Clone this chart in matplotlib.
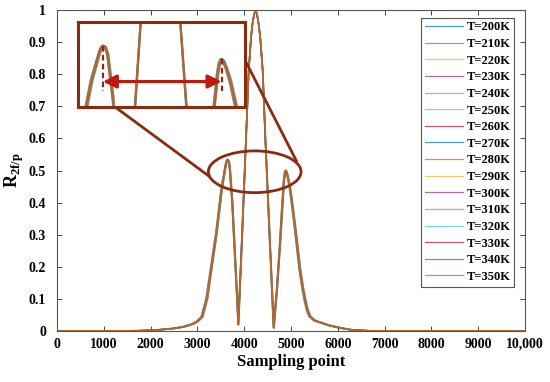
import matplotlib
matplotlib.use("Agg")
import matplotlib.pyplot as plt
from matplotlib.patches import Ellipse
import numpy as np

plt.rcParams['font.family'] = ['Liberation Serif', 'DejaVu Serif']
plt.rcParams['font.weight'] = 'bold'
plt.rcParams['mathtext.fontset'] = 'custom'
plt.rcParams['mathtext.bf'] = 'Liberation Serif:bold'
plt.rcParams['mathtext.rm'] = 'Liberation Serif'

# ---------------- data ----------------
temperatures = [200, 210, 220, 230, 240, 250, 260, 270, 280, 290, 300, 310, 320, 330, 340, 350]
series_labels = [f"T={t}K" for t in temperatures]

# base spectrum (sampling point, R_2f/p)
base_x = [0, 1000, 1800, 2200, 2500, 2700, 2900, 3000, 3100, 3200, 3300, 3410, 3520,
          3590, 3615, 3640, 3665, 3690, 3746, 3804, 3853, 3874, 3953, 4039, 4096, 4146,
          4175, 4210, 4243, 4276, 4315, 4345, 4396, 4452, 4545, 4631, 4700, 4765, 4810, 4845,
          4866, 4887, 4910, 4940, 4979, 5030, 5085, 5140, 5192, 5250, 5299, 5350, 5406, 5513,
          5684, 5800, 5976, 6150, 6325, 6688, 7000, 8000, 10000]
base_y = [0.0, 0.0, 0.001, 0.004, 0.008, 0.013, 0.022, 0.030, 0.045, 0.100, 0.200, 0.310, 0.445,
          0.505, 0.525, 0.534, 0.530, 0.512, 0.400, 0.230, 0.090, 0.020, 0.290, 0.600, 0.810, 0.915,
          0.955, 0.985, 1.000, 0.985, 0.950, 0.910, 0.810, 0.600, 0.290, 0.010, 0.130, 0.270, 0.380, 0.460,
          0.490, 0.500, 0.494, 0.475, 0.445, 0.390, 0.325, 0.255, 0.190, 0.135, 0.097, 0.065, 0.045, 0.032,
          0.024, 0.018, 0.012, 0.007, 0.003, 0.0005, 0.0, 0.0, 0.0]
center_x = 4243
stretch = [0.980, 0.983, 0.985, 0.988, 0.990, 0.993, 0.995, 0.998,
           1.000, 1.003, 1.005, 1.008, 1.010, 1.013, 1.015, 1.018]

xticks = [0, 1000, 2000, 3000, 4000, 5000, 6000, 7000, 8000, 9000, 10000]
xtick_labels = ['0', '1000', '2000', '3000', '4000', '5000', '6000', '7000', '8000', '9000', '10,000']
yticks = [0, 0.1, 0.2, 0.3, 0.4, 0.5, 0.6, 0.7, 0.8, 0.9, 1.0]
ytick_labels = ['0', '0.1', '0.2', '0.3', '0.4', '0.5', '0.6', '0.7', '0.8', '0.9', '1']

matlab_colors = ['#0072BD', '#D95319', '#EDB120', '#7E2F8E', '#77AC30', '#4DBEEE', '#A2142F']
# stacking priority of each colour (higher = drawn on top) to reproduce the blended tone
color_rank = [5, 7, 4, 2, 6, 1, 3]

# ---------------- figure ----------------
fig = plt.figure(figsize=(5.5, 3.82), dpi=100)
ax = fig.add_axes([57/550, 1-331/382, (525-57)/550, (331-10)/382])

bx = np.array(base_x, dtype=float)
by = np.array(base_y, dtype=float)
lines = []
for i, (lab, s) in enumerate(zip(series_labels, stretch)):
    xs = center_x + (bx - center_x) * s
    ln, = ax.plot(xs, by, color=matlab_colors[i % 7], lw=1.1, alpha=0.38, label=lab,
                  zorder=2 + color_rank[i % 7] * 0.01 + i * 0.0001)
    lines.append(ln)

ax.set_xlim(0, 10000)
ax.set_ylim(0, 1)
ax.set_xticks(xticks)
ax.set_xticklabels(xtick_labels)
ax.set_yticks(yticks)
ax.set_yticklabels(ytick_labels)
ax.tick_params(direction='in', length=3.5, width=0.6, top=True, right=True,
               labelsize=10, colors='#262626')
ax.tick_params(axis='x', pad=5)
ax.tick_params(axis='y', pad=8)
for lbl in ax.get_xticklabels() + ax.get_yticklabels():
    lbl.set_fontweight('bold')
    lbl.set_color('black')
for sp in ax.spines.values():
    sp.set_color('#555555')
    sp.set_linewidth(0.8)

ax.set_xlabel('Sampling point', fontsize=12, fontweight='bold', labelpad=2)
ax.set_ylabel(r'$\mathbf{R}_{\mathbf{2f/p}}$', fontsize=13, labelpad=2)

leg = ax.legend(handles=lines, loc='upper right', bbox_to_anchor=(0.977, 0.976), borderaxespad=0,
                fontsize=9, frameon=True, fancybox=False, framealpha=1,
                edgecolor='#555555', handlelength=3.1, handletextpad=0.25,
                labelspacing=0.37, borderpad=0.3)
leg.get_frame().set_linewidth(0.8)
leg.set_zorder(10)
for t in leg.get_texts():
    t.set_fontweight('bold')
for h in leg.legend_handles:
    h.set_alpha(0.7)
    h.set_linewidth(0.9)

# ---------------- zoom annotation ----------------
dark_red = '#8c2a10'
inset_rect = [450, 0.698, 4017 - 450, 0.963 - 0.698]
axin = ax.inset_axes(inset_rect, transform=ax.transData)
for i, s in enumerate(stretch):
    xs = center_x + (bx - center_x) * s
    axin.plot(xs, by, color=matlab_colors[i % 7], lw=1.2, alpha=0.38,
              zorder=2 + color_rank[i % 7] * 0.01 + i * 0.0001)
axin.set_xlim(3379, 5134)
axin.set_ylim(0.378, 0.594)
axin.set_xticks([])
axin.set_yticks([])
for sp in axin.spines.values():
    sp.set_color(dark_red)
    sp.set_linewidth(2.2)

peak_left = (3640, 0.534)
peak_right = (4887, 0.500)
arrow_y = 0.4425
dash_bottom = 0.418
axin.plot([peak_left[0], peak_left[0]], [peak_left[1], dash_bottom], color=dark_red,
          lw=1.6, ls=(0, (2.5, 1.5)), zorder=4)
axin.plot([peak_right[0], peak_right[0]], [peak_right[1], dash_bottom], color=dark_red,
          lw=1.6, ls=(0, (2.5, 1.5)), zorder=4)
axin.annotate('', xy=(peak_left[0], arrow_y), xytext=(peak_right[0], arrow_y),
              arrowprops=dict(arrowstyle='<|-|>', color='#c0180c', lw=2.2,
                              mutation_scale=20, shrinkA=0, shrinkB=0), zorder=5)

ell_center = (4224, 0.496)
ell_w, ell_h = 1981, 0.130
ax.add_patch(Ellipse(ell_center, ell_w, ell_h, fill=False, edgecolor=dark_red, lw=2.0, zorder=5))

# connector lines from inset box to ellipse
ax.plot([1239, 3270], [inset_rect[1], 0.480], color=dark_red, lw=2.0, zorder=5,
        solid_capstyle='butt')
ax.plot([inset_rect[0] + inset_rect[2], 5129], [0.844, 0.526], color=dark_red, lw=2.0,
        zorder=5, solid_capstyle='butt')

fig.savefig('out.png', dpi=100)
